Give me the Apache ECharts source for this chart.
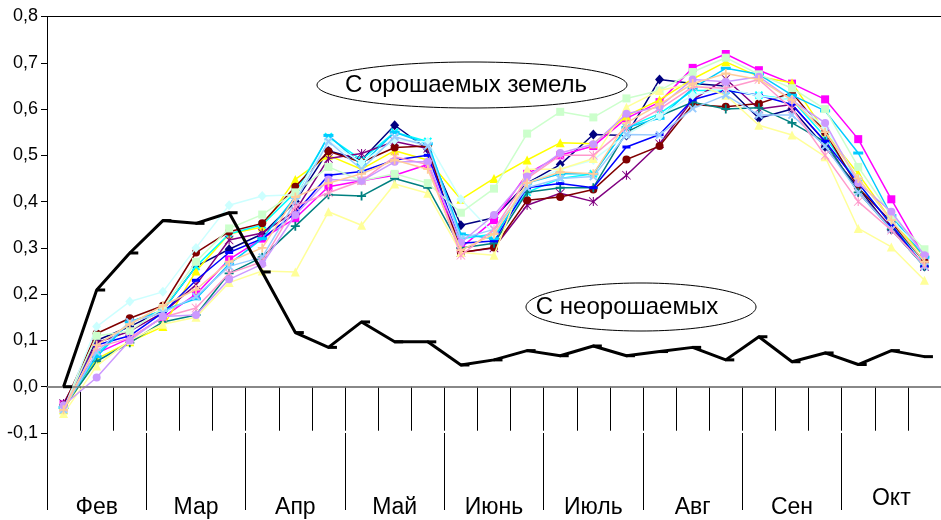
<!DOCTYPE html>
<html><head><meta charset="utf-8">
<script src="https://cdn.jsdelivr.net/npm/echarts@6/dist/echarts.min.js"></script>
<style>html,body{margin:0;padding:0;background:#fff}#c{width:941px;height:520px}</style>
</head><body><div id="c"></div>
<script>
// ---- categories ----
const months = ['Фев','Мар','Апр','Май','Июнь','Июль','Авг','Сен','Окт'];
const dekads = ['Фев 1','Фев 2','Фев 3','Мар 1','Мар 2','Мар 3','Апр 1','Апр 2','Апр 3',
  'Май 1','Май 2','Май 3','Июнь 1','Июнь 2','Июнь 3','Июль 1','Июль 2','Июль 3',
  'Авг 1','Авг 2','Авг 3','Сен 1','Сен 2','Сен 3','Окт 1','Окт 2','Окт 3'];
// ---- y axis ----
const yMin = -0.1, yMax = 0.8, yStep = 0.1;
// ---- series values ----
const nonIrrigated = [0.0,0.209,0.289,0.359,0.353,0.376,0.248,0.117,0.085,0.14,0.097,0.097,0.047,0.058,0.078,0.067,0.088,0.067,0.076,0.085,0.058,0.108,0.054,0.073,0.048,0.078,0.065];
const s01 = [-0.04,0.10,0.13,0.165,0.26,0.297,0.33,0.40,0.51,0.49,0.565,0.513,0.349,0.365,0.44,0.48,0.545,0.543,0.664,0.655,0.65,0.58,0.60,0.518,0.43,0.34,0.26];
const s02 = [-0.038,0.072,0.105,0.15,0.20,0.275,0.32,0.364,0.432,0.445,0.457,0.48,0.30,0.36,0.46,0.50,0.52,0.58,0.615,0.689,0.719,0.684,0.655,0.621,0.535,0.405,0.28];
const s03 = [-0.05,0.06,0.097,0.13,0.25,0.33,0.345,0.448,0.50,0.47,0.51,0.49,0.405,0.45,0.49,0.527,0.525,0.585,0.62,0.665,0.702,0.67,0.657,0.55,0.46,0.36,0.28];
const s04 = [-0.045,0.07,0.14,0.165,0.26,0.33,0.35,0.42,0.54,0.49,0.55,0.53,0.32,0.33,0.42,0.45,0.46,0.56,0.59,0.64,0.64,0.63,0.62,0.54,0.44,0.35,0.27];
const s05 = [-0.036,0.095,0.12,0.16,0.22,0.317,0.332,0.38,0.493,0.504,0.53,0.515,0.29,0.30,0.392,0.418,0.40,0.457,0.525,0.62,0.665,0.60,0.61,0.53,0.42,0.345,0.26];
const s06 = [-0.04,0.115,0.148,0.175,0.29,0.335,0.353,0.432,0.509,0.485,0.517,0.52,0.29,0.301,0.403,0.41,0.426,0.491,0.52,0.61,0.605,0.612,0.635,0.55,0.43,0.356,0.27];
const s07 = [-0.045,0.055,0.095,0.14,0.155,0.245,0.28,0.347,0.415,0.412,0.45,0.43,0.30,0.31,0.42,0.43,0.43,0.55,0.585,0.615,0.60,0.603,0.57,0.529,0.42,0.34,0.26];
const s08 = [-0.042,0.09,0.11,0.16,0.23,0.29,0.32,0.375,0.457,0.465,0.49,0.50,0.31,0.315,0.43,0.439,0.43,0.518,0.545,0.62,0.64,0.63,0.61,0.53,0.44,0.35,0.26];
const s09 = [-0.045,0.065,0.14,0.165,0.19,0.265,0.32,0.41,0.543,0.48,0.55,0.525,0.33,0.32,0.44,0.46,0.46,0.56,0.58,0.645,0.688,0.675,0.63,0.596,0.505,0.37,0.28];
const s10 = [-0.05,0.13,0.184,0.205,0.30,0.392,0.412,0.415,0.53,0.484,0.533,0.529,0.405,0.33,0.44,0.47,0.49,0.545,0.585,0.63,0.645,0.628,0.62,0.56,0.45,0.36,0.29];
const s11 = [-0.048,0.11,0.12,0.17,0.27,0.342,0.372,0.42,0.475,0.445,0.46,0.44,0.376,0.428,0.547,0.594,0.582,0.623,0.64,0.68,0.711,0.675,0.645,0.60,0.475,0.37,0.297];
const s12 = [-0.058,0.045,0.10,0.135,0.15,0.225,0.25,0.248,0.378,0.349,0.438,0.418,0.29,0.284,0.47,0.47,0.493,0.604,0.64,0.655,0.63,0.565,0.544,0.497,0.342,0.302,0.23];
const s13 = [-0.05,0.075,0.14,0.16,0.195,0.26,0.28,0.40,0.53,0.47,0.54,0.52,0.32,0.34,0.43,0.45,0.454,0.545,0.544,0.601,0.63,0.587,0.587,0.52,0.42,0.34,0.26];
const s14 = [-0.045,0.085,0.105,0.15,0.17,0.245,0.27,0.39,0.419,0.445,0.497,0.48,0.284,0.34,0.45,0.50,0.50,0.56,0.60,0.648,0.645,0.664,0.60,0.50,0.40,0.338,0.263];
const s15 = [-0.04,0.02,0.10,0.152,0.155,0.232,0.265,0.371,0.448,0.445,0.486,0.486,0.311,0.371,0.454,0.505,0.524,0.59,0.605,0.664,0.659,0.67,0.619,0.57,0.44,0.378,0.284];
const s16 = [-0.05,0.09,0.135,0.175,0.21,0.27,0.30,0.41,0.44,0.46,0.49,0.47,0.295,0.33,0.44,0.464,0.46,0.57,0.61,0.655,0.677,0.664,0.62,0.55,0.45,0.36,0.27];

const FONT = '"Liberation Sans", Arial, sans-serif';
const SYM = {
  diamond: {symbol:'diamond', size:[9,10]},
  square: {symbol:'rect', size:8},
  triangle: {symbol:'triangle', size:9},
  x: {symbol:'path://M4,0H6V4H10V6H6V10H4V6H0V4H4Z', size:10, rotate:45},
  star: {symbol:'path://M4.4,0H5.6V10H4.4Z M0.6,0L5,4.2L9.4,0L10,0.6L5.8,5L10,9.4L9.4,10L5,5.8L0.6,10L0,9.4L4.2,5L0,0.6Z', size:9},
  circle: {symbol:'circle', size:8},
  plus: {symbol:'path://M4,0H6V4H10V6H6V10H4V6H0V4H4Z', size:9},
  dash: {symbol:'rect', size:[8,3]},
  ldash: {symbol:'rect', size:[10,3]}
};
const colored = [
  ['Участок 1', s01, '#000080', 'diamond'],
  ['Участок 2', s02, '#FF00FF', 'square'],
  ['Участок 3', s03, '#FFFF00', 'triangle'],
  ['Участок 4', s04, '#00FFFF', 'x'],
  ['Участок 5', s05, '#800080', 'star'],
  ['Участок 6', s06, '#800000', 'circle'],
  ['Участок 7', s07, '#008080', 'plus'],
  ['Участок 8', s08, '#0000FF', 'dash'],
  ['Участок 9', s09, '#00CCFF', 'ldash'],
  ['Участок 10', s10, '#CCFFFF', 'diamond'],
  ['Участок 11', s11, '#CCFFCC', 'square'],
  ['Участок 12', s12, '#FFFF99', 'triangle'],
  ['Участок 13', s13, '#99CCFF', 'x'],
  ['Участок 14', s14, '#FF99CC', 'star'],
  ['Участок 15', s15, '#CC99FF', 'circle'],
  ['Участок 16', s16, '#FFCC99', 'plus']
];
const series = colored.map(([name, data, color, mk], k) => ({
  name, type:'line', data, xAxisIndex:0, yAxisIndex:0,
  symbol: SYM[mk].symbol, symbolSize: SYM[mk].size, symbolRotate: SYM[mk].rotate || 0,
  showAllSymbol: true, z: 2 + k*0.01,
  lineStyle: {color, width:1.5}, itemStyle: {color, borderWidth:0},
  emphasis: {disabled:true}
}));
series.push({
  name:'С неорошаемых', type:'line', data: nonIrrigated, z: 5,
  symbol:'rect', symbolSize:[9,3], symbolOffset:[4,0], showAllSymbol:true,
  lineStyle:{color:'#000', width:3}, itemStyle:{color:'#000'},
  emphasis:{disabled:true},
  markLine:{silent:true, symbol:['none','none'], label:{show:false},
    lineStyle:{color:'#808080', width:1.5, type:'solid'}, data:[{yAxis:0}]}
});

const chart = echarts.init(document.getElementById('c'), null, {renderer:'canvas'});
chart.setOption({
  animation:false,
  backgroundColor:'#fff',
  grid:{left:47, top:16.5, width:904.5, height:416.5, containLabel:false},
  xAxis:[
    {type:'category', data:dekads, position:'bottom', boundaryGap:true,
     axisLine:{show:true, lineStyle:{color:'#808080', width:1.5}},
     axisTick:{show:true, interval:0, length:44, lineStyle:{color:'#000', width:1}},
     axisLabel:{show:false}, splitLine:{show:false}},
    {type:'category', data:months, position:'bottom', boundaryGap:true,
     axisLine:{show:false},
     axisTick:{show:true, interval:0, length:77, lineStyle:{color:'#000', width:1}},
     axisLabel:{show:true, interval:0, margin:54, fontSize:23, color:'#000', fontFamily:FONT,
       formatter: v => v === 'Окт' ? v : '{d|' + v + '}',
       rich:{d:{padding:[9,0,0,0], fontSize:23, color:'#000', fontFamily:FONT}}},
     splitLine:{show:false}},
    {type:'category', data:dekads, position:'top',
     axisLine:{show:true, lineStyle:{color:'#000', width:1}},
     axisTick:{show:false}, axisLabel:{show:false}, splitLine:{show:false}}
  ],
  yAxis:{type:'value', min:yMin, max:yMax, interval:yStep,
    axisLine:{show:true, lineStyle:{color:'#000', width:1}},
    axisTick:{show:true, length:6, lineStyle:{color:'#000'}},
    axisLabel:{margin:9, fontSize:18, color:'#000', fontFamily:FONT,
      formatter: v => v.toFixed(1).replace('.', ',')},
    splitLine:{show:false}},
  series,
  graphic:[
    {type:'ellipse', shape:{cx:472, cy:85, rx:155, ry:23}, style:{fill:'#fff', stroke:'#000', lineWidth:1}, z:100},
    {type:'text', x:466, y:85, style:{text:'С орошаемых земель', font:'24px ' + FONT, fill:'#000', align:'center', verticalAlign:'middle'}, z:101},
    {type:'ellipse', shape:{cx:641, cy:307, rx:115, ry:24}, style:{fill:'#fff', stroke:'#000', lineWidth:1}, z:100},
    {type:'text', x:627, y:307, style:{text:'С неорошаемых', font:'24px ' + FONT, fill:'#000', align:'center', verticalAlign:'middle'}, z:101}
  ]
});
</script></body></html>
